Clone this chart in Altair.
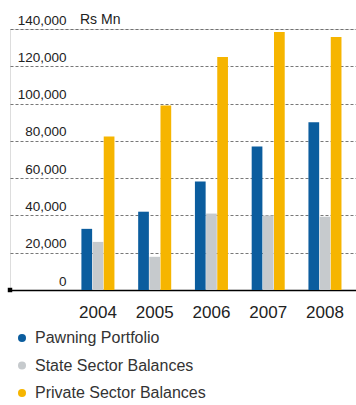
import altair as alt
import pandas as pd

years = ["2004", "2005", "2006", "2007", "2008"]
series = ["Pawning Portfolio", "State Sector Balances", "Private Sector Balances"]
pawning = [32800, 42000, 58200, 77000, 90000]
state = [25800, 17800, 41000, 40000, 39300]
private = [82400, 99000, 125000, 138400, 135700]
colors = ["#0b5d9e", "#c6cacd", "#f6b500"]
y_ticks = [0, 20000, 40000, 60000, 80000, 100000, 120000, 140000]
unit_label = ["Rs Mn"]

rows = []
for i, yr in enumerate(years):
    for s, vals in zip(series, [pawning, state, private]):
        rows.append({"year": yr, "series": s, "value": vals[i]})
df = pd.DataFrame(rows)

bars = alt.Chart(df).mark_bar().encode(
    x=alt.X(
        "year:N", title=None, sort=years,
        scale=alt.Scale(paddingInner=0.418, paddingOuter=0.757, align=0.831),
        axis=alt.Axis(labelAngle=0, labelFontSize=17, labelColor="#222", labelPadding=14,
                      ticks=False, tickSize=0, domainColor="#000", domainWidth=1.3, grid=False),
    ),
    xOffset=alt.XOffset("series:N", sort=series, scale=alt.Scale(paddingInner=0.04)),
    y=alt.Y(
        "value:Q", title=None,
        scale=alt.Scale(domain=[0, 140000], nice=False),
        axis=alt.Axis(values=y_ticks, format=",d", grid=True, gridDash=[3, 2], gridColor="#555",
                      gridWidth=0.8, domain=False, ticks=False, tickSize=0, labelAlign="right",
                      labelBaseline="alphabetic", labelPadding=-56, labelOffset=-5,
                      labelFontSize=13.5, labelColor="#222", labelFlush=False),
    ),
    color=alt.Color(
        "series:N", sort=series,
        scale=alt.Scale(domain=series, range=colors),
        legend=alt.Legend(title=None, orient="none", legendX=4, legendY=301, direction="vertical",
                          symbolType="circle", symbolSize=64, symbolStrokeWidth=0,
                          labelFontSize=16, labelColor="#333", rowPadding=11.5, labelOffset=5,
                          labelLimit=0, padding=0),
    ),
)

text = alt.Chart(pd.DataFrame({"t": unit_label})).mark_text(
    align="left", baseline="alphabetic", fontSize=14, color="#222"
).encode(x=alt.value(70), y=alt.value(-5), text="t:N")

square = alt.Chart(pd.DataFrame({"t": unit_label})).mark_point(
    shape="square", filled=True, size=20, color="#000", opacity=1
).encode(x=alt.value(0), y=alt.value(261))

chart = alt.layer(bars, text, square).properties(
    width=346, height=261,
    padding={"left": 10, "top": 29, "right": 0, "bottom": 115},
    autosize=alt.AutoSizeParams(type="none"),
).configure_view(stroke=None).configure(font="Liberation Sans")

chart.save("out.html", embed_options={"renderer": "svg", "actions": False})
